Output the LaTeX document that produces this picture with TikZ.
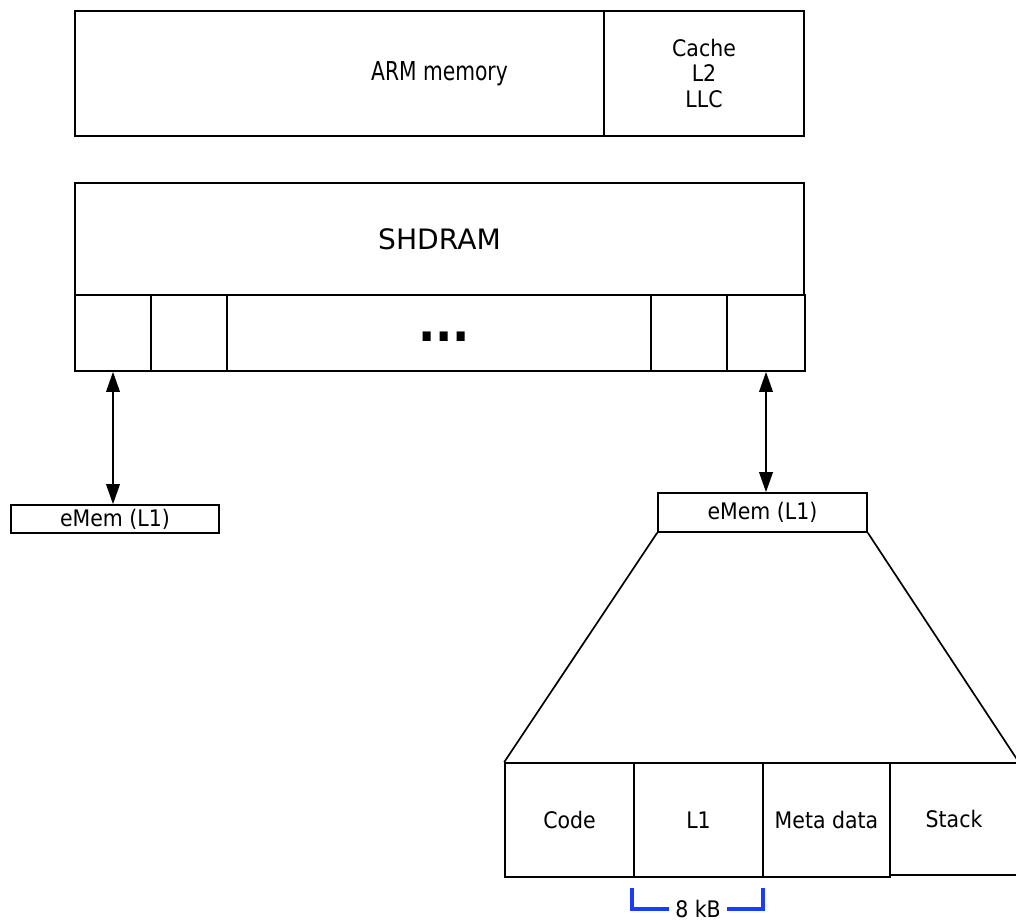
\documentclass[tikz,border=0pt]{standalone}
\usepackage{fontspec}
\setmainfont{DejaVu Sans}
\newfontfamily\narrowsans[FakeStretch=0.9]{DejaVu Sans}
\newfontfamily\tallsans[FakeStretch=0.78]{DejaVu Sans}
\usepackage{tikz}
\usetikzlibrary{arrows.meta,calc}
\definecolor{kbblue}{RGB}{25,60,255}
\newcommand{\px}{0.25mm}
\newcommand{\thickness}{1.2pt}
\newcommand{\labelfont}{\narrowsans\fontsize{16.2}{18.3}\selectfont}
\tikzset{
  cell/.style={draw, line width=\thickness, fill=white, inner sep=0pt, align=center, font=\labelfont},
  link/.style={{Triangle[length=5mm,width=3.4mm]}-{Triangle[length=5mm,width=3.4mm]}, line width=\thickness},
  bracket/.style={kbblue, line width=2.2pt}
}

\begin{document}
\begin{tikzpicture}[x=\px, y=-\px]
\useasboundingbox (0,0) rectangle (1016,923);
%ARM memory
\node[cell] (arm) at (439.5, 73.5) [minimum width=729*\px, minimum height=125*\px, font=\tallsans\fontsize{18.5}{20}\selectfont] {ARM memory};
\node[cell] (cache) at (704, 73.5) [minimum width=200*\px, minimum height=125*\px] {Cache\\L2\\LLC};
%SHDRAM
\node[cell] (shdram) at (439.5, 239) [minimum width=729*\px, minimum height=112*\px, font=\fontsize{20}{22}\selectfont] {SHDRAM};
\node[cell] (s1) at (113, 333) [minimum width=76*\px, minimum height=76*\px] {};
\node[cell] (s2) at (189, 333) [minimum width=76*\px, minimum height=76*\px] {};
\node[cell] (s3) at (439, 333) [minimum width=424*\px, minimum height=76*\px] {};
\node[cell] (s4) at (689, 333) [minimum width=76*\px, minimum height=76*\px] {};
\node[cell] (s5) at (766, 333) [minimum width=78*\px, minimum height=76*\px] {};
\node (dots) at (444, 341) [anchor=base, inner sep=0pt, font=\narrowsans\bfseries\fontsize{36}{36}\selectfont] {...};
%eMem
\node[cell] (ememL) at (115, 519) [minimum width=208*\px, minimum height=28*\px] {eMem (L1)};
\node[cell] (ememR) at (762.5, 512.5) [minimum width=209*\px, minimum height=39*\px] {eMem (L1)};
\draw[link] (s1.south) -- (s1.south |- ememL.north);
\draw[link] (s5.south) -- (s5.south |- ememR.north);
%eMem layout
\node[cell] (code) at (569.5, 820) [minimum width=129*\px, minimum height=114*\px] {Code};
\node[cell] (l1) at (698.5, 820) [minimum width=129*\px, minimum height=114*\px] {L1};
\node[cell] (meta) at (826.5, 820) [minimum width=127*\px, minimum height=114*\px] {Meta data};
\node[cell] (stack) at (954, 819) [minimum width=128*\px, minimum height=112*\px] {Stack};
\draw[line width=\thickness] (ememR.south west) -- (code.north west);
\draw[line width=\thickness] (ememR.south east) -- (stack.north east);
%8 kB
\node (size) at (698, 909) [font=\labelfont, inner sep=1.5mm] {8 kB};
\coordinate (kbl) at (632, 888);
\coordinate (kbr) at (763, 888);
\draw[bracket] (kbl) |- (size.west);
\draw[bracket] (kbr) |- (size.east);
\end{tikzpicture}
\end{document}
